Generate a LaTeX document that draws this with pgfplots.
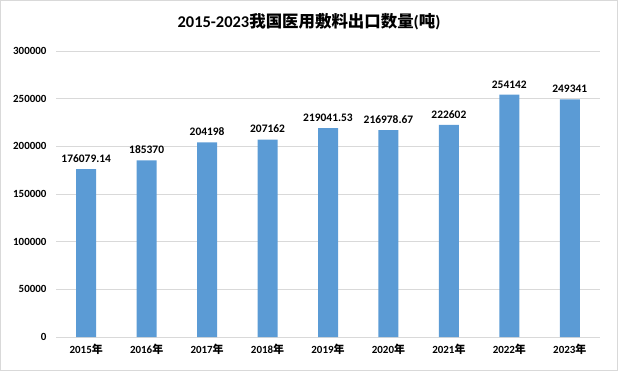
\documentclass[border=0pt]{standalone}
\usepackage{fontspec}
\setmainfont{Carlito}
\newfontfamily\cjk{Noto Sans CJK SC}
\usepackage{pgfplots}
\pgfplotsset{compat=1.18}
\definecolor{barblue}{HTML}{5B9BD5}
\definecolor{gridgray}{HTML}{D9D9D9}
\begin{document}
\begin{tikzpicture}[x=1bp,y=1bp]
\draw[draw=gridgray, line width=1bp] (0.5,0.5) rectangle (617.5,370.5);
\node[font=\fontsize{16.5}{19}\selectfont\bfseries] at (309,349) {2015-2023{\cjk\bfseries 我国医用敷料出口数量}({\cjk\bfseries 吨})};
\begin{axis}[
  at={(56bp,34bp)}, anchor=south west,
  scale only axis, width=544bp, height=286bp,
  xmin=-0.5, xmax=8.5, ymin=0, ymax=300000,
  axis lines=left,
  axis line style={draw=none},
  ytick={0,50000,100000,150000,200000,250000,300000},
  yticklabels={0,50000,100000,150000,200000,250000,300000},
  ymajorgrids, grid style={gridgray, line width=0.8bp},
  xtick={0,...,8},
  xticklabels={2015{\cjk\bfseries 年},2016{\cjk\bfseries 年},2017{\cjk\bfseries 年},2018{\cjk\bfseries 年},2019{\cjk\bfseries 年},2020{\cjk\bfseries 年},2021{\cjk\bfseries 年},2022{\cjk\bfseries 年},2023{\cjk\bfseries 年}},
  major tick length=0pt,
  scaled y ticks=false,
  tick label style={font=\fontsize{11}{13}\selectfont\bfseries},
  xticklabel style={yshift=-4bp},
  yticklabel style={xshift=-6bp},
  clip=false,
]
\addplot[ybar, bar width=20bp, fill=barblue, draw=none,
  nodes near coords, point meta=explicit symbolic,
  every node near coord/.append style={font=\fontsize{11.5}{13}\selectfont\bfseries, yshift=3bp}]
  table[meta=lbl] {
x y lbl
0 176079.14 176079.14
1 185370 185370
2 204198 204198
3 207162 207162
4 219041.53 219041.53
5 216978.67 216978.67
6 222602 222602
7 254142 254142
8 249341 249341
};
\end{axis}
\end{tikzpicture}
\end{document}
